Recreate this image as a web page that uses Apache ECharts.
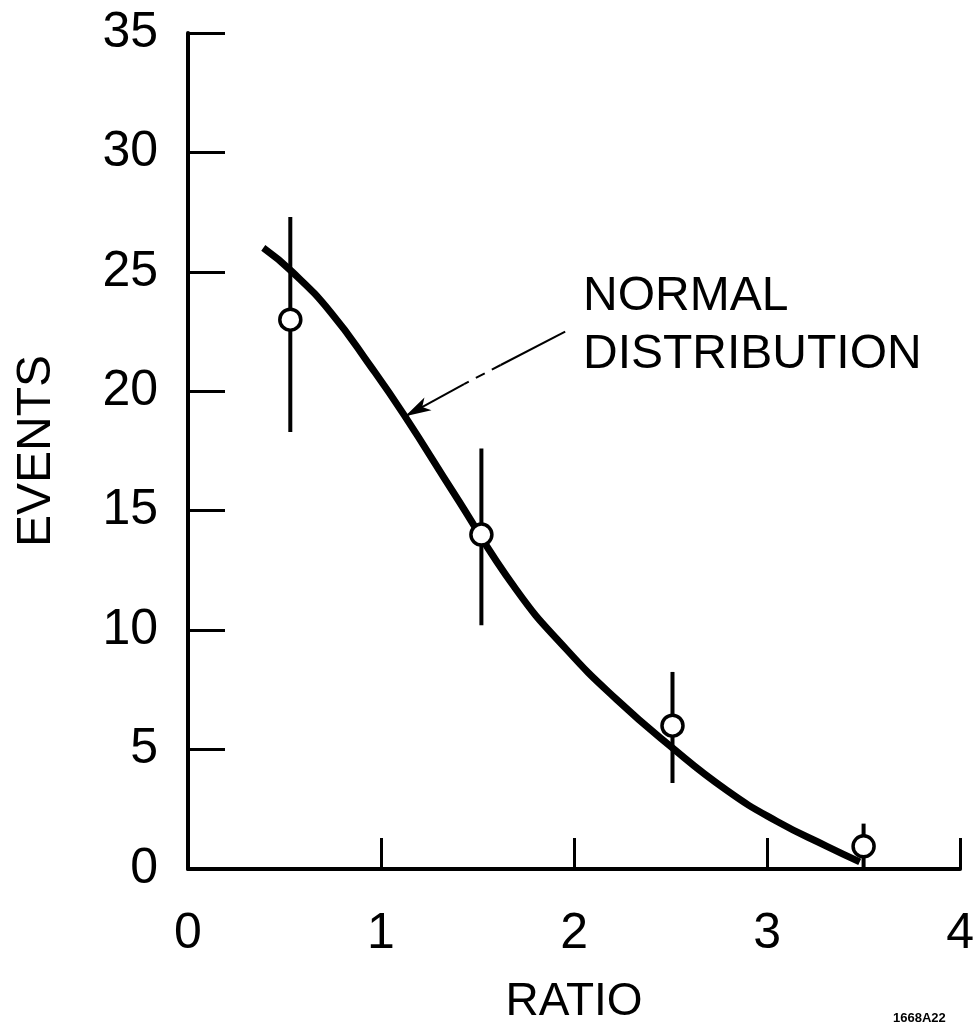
<!DOCTYPE html>
<html lang="en">
<head>
    <meta charset="UTF-8">
    <title>Events vs ratio</title>
    <script src="https://cdn.jsdelivr.net/npm/echarts@6/dist/echarts.min.js"></script>
</head>
<body style="margin:0; background:#fff;">

<div id="wrap" style="width: 977px; height: 1030px;"></div>

<script>
    // measured points with error bars
    var ratio = [0.53, 1.52, 2.51, 3.50];
    var events = [23.0, 14.0, 6.0, 0.95];
    var errLow = [18.3, 10.2, 3.6, 0.05];
    var errHigh = [27.3, 17.6, 8.25, 1.9];

    // normal distribution curve
    var curveX = [0.39, 0.54, 0.74, 0.95, 1.12, 1.38, 1.70, 1.96, 2.22, 2.49, 2.79, 3.05, 3.31, 3.48];
    var curveY = [26.0, 25.0, 23.3, 21.0, 19.0, 15.7, 11.7, 9.2, 7.1, 5.2, 3.3, 2.0, 0.95, 0.3];

    // arrow from the label to the curve (data coords)
    var arrowPts = [[1.954, 22.5], [1.62, 21.1], [1.43, 20.3], [1.125, 18.95]];

    var font = '"Liberation Sans", sans-serif';

    var curveData = [];
    for (var i = 0; i < curveX.length; i++) {
        curveData.push([curveX[i], curveY[i]]);
    }
    var pointData = [];
    var barData = [];
    for (var j = 0; j < ratio.length; j++) {
        pointData.push([ratio[j], events[j]]);
        barData.push([ratio[j], errLow[j], errHigh[j]]);
    }

    var myChart = echarts.init(document.getElementById("wrap"));

    var option = {
        backgroundColor: '#fff',
        animation: false,
        grid: {
            left: 188,
            right: 9,
            top: 33,
            bottom: 161
        },
        xAxis: {
            type: 'value',
            min: 0,
            max: 4,
            interval: 1,
            name: 'RATIO',
            nameLocation: 'middle',
            nameGap: 110,
            nameTextStyle: {fontFamily: font, fontSize: 46, color: '#000'},
            splitLine: {show: false},
            axisLine: {lineStyle: {color: '#000', width: 4}},
            axisTick: {inside: true, length: 31, lineStyle: {color: '#000', width: 3}},
            axisLabel: {fontFamily: font, fontSize: 50, color: '#000', margin: 40}
        },
        yAxis: {
            type: 'value',
            min: 0,
            max: 35,
            interval: 5,
            name: 'EVENTS',
            nameLocation: 'middle',
            nameGap: 127,
            nameTextStyle: {fontFamily: font, fontSize: 48, color: '#000'},
            splitLine: {show: false},
            axisLine: {lineStyle: {color: '#000', width: 4}},
            axisTick: {inside: true, length: 37, lineStyle: {color: '#000', width: 3}},
            axisLabel: {fontFamily: font, fontSize: 50, color: '#000', margin: 30}
        },
        graphic: [{
            type: 'text',
            left: 583,
            top: 268,
            style: {
                text: 'NORMAL\nDISTRIBUTION',
                font: '48px ' + font,
                fill: '#000',
                lineHeight: 58
            }
        }, {
            type: 'text',
            left: 893,
            top: 1012,
            style: {
                text: '1668A22',
                font: 'bold 13px ' + font,
                fill: '#000'
            }
        }],
        series: [{
            name: 'normal',
            type: 'line',
            smooth: 0.5,
            showSymbol: false,
            data: curveData,
            z: 2,
            lineStyle: {color: '#000', width: 7},
            markLine: {
                silent: true,
                symbol: ['none', 'none'],
                label: {show: false},
                lineStyle: {color: '#000', width: 2, type: 'solid'},
                data: [
                    [{coord: arrowPts[0]}, {coord: arrowPts[1]}],
                    [{coord: arrowPts[1], lineStyle: {type: [10, 8]}}, {coord: arrowPts[2]}],
                    [{coord: arrowPts[2]}, {coord: arrowPts[3], symbol: 'arrow', symbolSize: [11, 26]}]
                ]
            }
        }, {
            name: 'errors',
            type: 'custom',
            z: 3,
            data: barData,
            renderItem: function (params, api) {
                var lo = api.coord([api.value(0), api.value(1)]);
                var hi = api.coord([api.value(0), api.value(2)]);
                return {
                    type: 'line',
                    shape: {x1: lo[0], y1: lo[1], x2: hi[0], y2: hi[1]},
                    style: {stroke: '#000', lineWidth: 4}
                };
            }
        }, {
            name: 'data',
            type: 'scatter',
            z: 4,
            symbol: 'circle',
            symbolSize: 21,
            data: pointData,
            itemStyle: {color: '#fff', borderColor: '#000', borderWidth: 3.5, opacity: 1}
        }]
    };

    myChart.setOption(option);
</script>
</body>
</html>
